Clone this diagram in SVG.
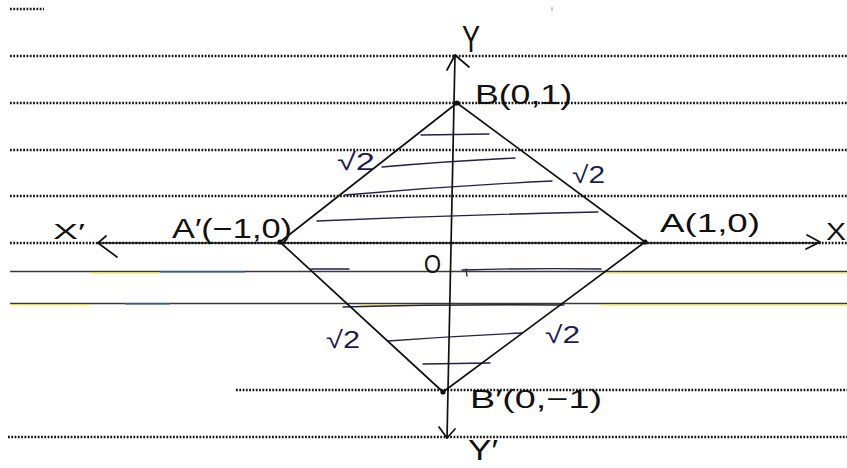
<svg xmlns="http://www.w3.org/2000/svg" width="847" height="468" viewBox="0 0 847 468">
<style>
.dot{stroke:#141414;stroke-width:2.6;stroke-dasharray:1.8 1.5;fill:none}
.rule{stroke:#3a3a3a;stroke-width:1.7;fill:none}
.hl{stroke:#e6dc1a;stroke-width:1.2;fill:none;opacity:.85}
.blue{stroke:#3d6fb0;stroke-width:1.4;fill:none;opacity:.8}
.ink{stroke:#111;stroke-width:1.7;fill:none;stroke-linecap:round;stroke-linejoin:round}
.hatch{stroke:#22224a;stroke-width:1.3;fill:none;stroke-linecap:round}
.t{font-family:"Liberation Sans","DejaVu Sans",sans-serif;fill:#111}
.r2{font-family:"Liberation Sans","DejaVu Sans",sans-serif;fill:#1c1c55;font-size:24px}
.pt{fill:#111}
</style>
<rect width="847" height="468" fill="#ffffff"/>
<g id="paper">
<line class="dot" x1="10" y1="9" x2="44" y2="9"/>
<line x1="552" y1="7" x2="552" y2="11" stroke="#999" stroke-width="1"/>
<line class="dot" x1="10" y1="56" x2="847" y2="56"/>
<line class="dot" x1="10" y1="103" x2="847" y2="103"/>
<line class="dot" x1="10" y1="150" x2="847" y2="150"/>
<line class="dot" x1="10" y1="196" x2="847" y2="196"/>
<line class="dot" x1="10" y1="243" x2="847" y2="243"/>
<line class="rule" x1="10" y1="271.5" x2="847" y2="271.5"/>
<line class="hl" x1="90" y1="272.8" x2="160" y2="272.8"/>
<line class="blue" x1="160" y1="272" x2="245" y2="272"/>
<line class="hl" x1="600" y1="273" x2="847" y2="273"/>
<line class="rule" x1="10" y1="303.5" x2="847" y2="303.5"/>
<line class="hl" x1="10" y1="304.6" x2="90" y2="304.6"/>
<line class="blue" x1="125" y1="304" x2="170" y2="304"/>
<line class="hl" x1="360" y1="304.8" x2="560" y2="304.8"/>
<line class="hl" x1="600" y1="304.8" x2="847" y2="304.8"/>
<line class="dot" x1="236" y1="390" x2="847" y2="390"/>
<line class="dot" x1="8" y1="437" x2="847" y2="437"/>
</g>
<g id="shading">
<path class="hatch" d="M421 135 L489 134"/>
<path class="hatch" d="M382 167 Q450 161 515 158"/>
<path class="hatch" d="M345 195 Q450 186 552 181"/>
<path class="hatch" d="M317 221 Q460 215 598 212"/>
<path class="hatch" d="M311 269 L349 269"/>
<path class="hatch" d="M462 270 Q530 268 601 269 M466 269 L467 276"/>
<path class="hatch" d="M343 307 Q450 304 564 305"/>
<path class="hatch" d="M388 341 Q455 336 522 333"/>
<path class="hatch" d="M423 364 L490 363"/>
</g>
<g id="connectors">
<path id="y-axis" class="ink" d="M455 55 L447 438"/>
<path class="ink" d="M447 70 L455 55 L469 67"/>
<path class="ink" d="M439 427 L447 438 L455 429"/>
<path id="x-axis" class="ink" d="M98 243 L820 243"/>
<path class="ink" d="M106 236 L98 243 L117 257"/>
<path class="ink" d="M807 235 L820 242 L806 249"/>
<path id="edge-BA" class="ink" d="M457 103 L645 242"/>
<path id="edge-AB1" class="ink" d="M645 242 L443 392"/>
<path id="edge-B1A1" class="ink" d="M443 392 L280 242"/>
<path id="edge-A1B" class="ink" d="M280 242 L457 103"/>
</g>
<g id="node-B"><circle class="pt" cx="457" cy="103" r="2.6"/><text class="t" x="475" y="104" font-size="28" textLength="97" lengthAdjust="spacingAndGlyphs">B(0,1)</text></g>
<g id="node-A"><circle class="pt" cx="645" cy="242" r="2.6"/><text class="t" x="660" y="232" font-size="25" textLength="100" lengthAdjust="spacingAndGlyphs">A(1,0)</text></g>
<g id="node-A1"><circle class="pt" cx="280" cy="242" r="2.6"/><text class="t" x="172" y="238" font-size="27" textLength="120" lengthAdjust="spacingAndGlyphs">A′(−1,0)</text></g>
<g id="node-B1"><circle class="pt" cx="443" cy="392" r="2.6"/><text class="t" x="470" y="408" font-size="26" textLength="132" lengthAdjust="spacingAndGlyphs">B′(0,−1)</text></g>
<g id="node-O"><text class="t" x="424" y="273" font-size="25" textLength="17" lengthAdjust="spacingAndGlyphs">O</text></g>
<g id="axis-labels">
<text class="t" x="462" y="52" font-size="36" textLength="18" lengthAdjust="spacingAndGlyphs">Y</text>
<text class="t" x="468" y="460" font-size="30" textLength="30" lengthAdjust="spacingAndGlyphs">Y′</text>
<text class="t" x="826" y="240" font-size="24" textLength="20" lengthAdjust="spacingAndGlyphs">X</text>
<text class="t" x="53" y="239" font-size="22" textLength="32" lengthAdjust="spacingAndGlyphs">X′</text>
</g>
<g id="side-labels">
<text class="r2" x="337" y="170" textLength="38" lengthAdjust="spacingAndGlyphs">√2</text>
<text class="r2" x="572" y="183" textLength="33" lengthAdjust="spacingAndGlyphs">√2</text>
<text class="r2" x="326" y="348" textLength="34" lengthAdjust="spacingAndGlyphs">√2</text>
<text class="r2" x="545" y="343" textLength="35" lengthAdjust="spacingAndGlyphs">√2</text>
</g>
</svg>
